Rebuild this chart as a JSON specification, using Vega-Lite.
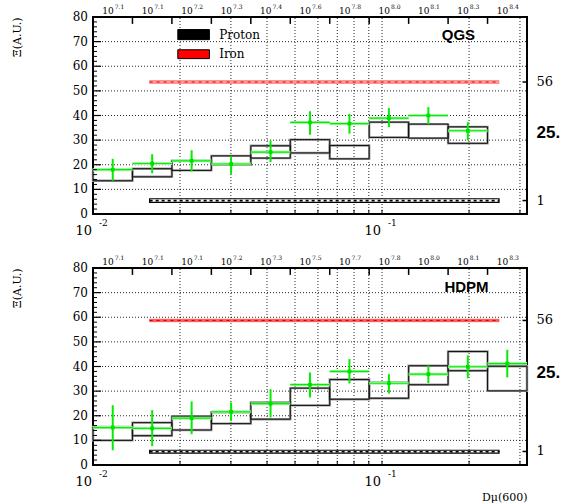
{
  "$schema": "https://vega.github.io/schema/vega-lite/v6.json",
  "padding": {"left": 10, "top": 3, "right": 2, "bottom": 3},
  "background": "white",
  "config": {
    "view": {"stroke": "black", "strokeWidth": 2},
    "axis": {"labels": false, "ticks": false, "domain": false, "grid": false,
      "titleFont": "DejaVu Serif", "titleFontWeight": "normal", "titleColor": "black", "titleFontSize": 11},
    "text": {"font": "DejaVu Serif", "color": "black"}
  },
  "datasets": {
    "qgs": [
      {"lo": -2.0, "hi": -1.8635, "mid": -1.93175, "bLo": 13.5, "bHi": 18.0, "val": 18.0, "eLo": 13.5, "eHi": 22.4},
      {"lo": -1.8635, "hi": -1.727, "mid": -1.79525, "bLo": 15.1, "bHi": 18.4, "val": 20.5, "eLo": 16.5, "eHi": 24.3},
      {"lo": -1.727, "hi": -1.5905, "mid": -1.65875, "bLo": 17.7, "bHi": 21.6, "val": 21.6, "eLo": 17.3, "eHi": 25.9},
      {"lo": -1.5905, "hi": -1.454, "mid": -1.52225, "bLo": 20.0, "bHi": 23.6, "val": 20.3, "eLo": 16.2, "eHi": 23.4},
      {"lo": -1.454, "hi": -1.3175, "mid": -1.38575, "bLo": 22.7, "bHi": 27.7, "val": 25.1, "eLo": 21.1, "eHi": 29.8},
      {"lo": -1.3175, "hi": -1.181, "mid": -1.24925, "bLo": 24.8, "bHi": 30.2, "val": 37.2, "eLo": 32.2, "eHi": 41.7},
      {"lo": -1.181, "hi": -1.0445, "mid": -1.11275, "bLo": 22.4, "bHi": 27.8, "val": 36.7, "eLo": 32.6, "eHi": 40.7},
      {"lo": -1.0445, "hi": -0.908, "mid": -0.97625, "bLo": 31.1, "bHi": 37.3, "val": 38.9, "eLo": 35.3, "eHi": 43.0},
      {"lo": -0.908, "hi": -0.7715, "mid": -0.83975, "bLo": 30.8, "bHi": 36.5, "val": 40.0, "eLo": 36.5, "eHi": 43.4},
      {"lo": -0.7715, "hi": -0.635, "mid": -0.70325, "bLo": 28.7, "bHi": 35.4, "val": 33.8, "eLo": 29.9, "eHi": 37.3}
    ],
    "hdpm": [
      {"lo": -2.0, "hi": -1.8635, "mid": -1.93175, "bLo": 10.0, "bHi": 15.5, "val": 15.2, "eLo": 6.0, "eHi": 24.3},
      {"lo": -1.8635, "hi": -1.727, "mid": -1.79525, "bLo": 11.9, "bHi": 17.2, "val": 14.9, "eLo": 7.7, "eHi": 22.3},
      {"lo": -1.727, "hi": -1.5905, "mid": -1.65875, "bLo": 14.2, "bHi": 19.8, "val": 19.0, "eLo": 12.5, "eHi": 25.8},
      {"lo": -1.5905, "hi": -1.454, "mid": -1.52225, "bLo": 16.8, "bHi": 21.4, "val": 21.6, "eLo": 17.9, "eHi": 25.4},
      {"lo": -1.454, "hi": -1.3175, "mid": -1.38575, "bLo": 18.6, "bHi": 25.4, "val": 24.9, "eLo": 19.3, "eHi": 30.8},
      {"lo": -1.3175, "hi": -1.181, "mid": -1.24925, "bLo": 24.2, "bHi": 31.2, "val": 32.6, "eLo": 27.4, "eHi": 37.6},
      {"lo": -1.181, "hi": -1.0445, "mid": -1.11275, "bLo": 26.7, "bHi": 34.7, "val": 38.0, "eLo": 33.1, "eHi": 43.0},
      {"lo": -1.0445, "hi": -0.908, "mid": -0.97625, "bLo": 27.1, "bHi": 33.5, "val": 33.2, "eLo": 29.0, "eHi": 36.9},
      {"lo": -0.908, "hi": -0.7715, "mid": -0.83975, "bLo": 32.6, "bHi": 40.3, "val": 36.9, "eLo": 33.3, "eHi": 40.4},
      {"lo": -0.7715, "hi": -0.635, "mid": -0.70325, "bLo": 38.3, "bHi": 46.1, "val": 39.9, "eLo": 35.2, "eHi": 44.5},
      {"lo": -0.635, "hi": -0.4985, "mid": -0.56675, "bLo": 30.1, "bHi": 40.1, "val": 41.2, "eLo": 35.6, "eHi": 46.8}
    ],
    "gridX": [
      {"g": -1.69897}, {"g": -1.52288}, {"g": -1.39794}, {"g": -1.30103}, {"g": -1.22185},
      {"g": -1.1549}, {"g": -1.09691}, {"g": -1.04576}, {"g": -1}, {"g": -0.69897}, {"g": -0.52288}
    ],
    "gridY": [{"v": 10}, {"v": 20}, {"v": 30}, {"v": 40}, {"v": 50}, {"v": 60}, {"v": 70}],
    "yTicks": [{"v": 0}, {"v": 10}, {"v": 20}, {"v": 30}, {"v": 40}, {"v": 50}, {"v": 60}, {"v": 70}, {"v": 80}],
    "yMinor": [
      {"v": 2}, {"v": 4}, {"v": 6}, {"v": 8}, {"v": 12}, {"v": 14}, {"v": 16}, {"v": 18},
      {"v": 22}, {"v": 24}, {"v": 26}, {"v": 28}, {"v": 32}, {"v": 34}, {"v": 36}, {"v": 38},
      {"v": 42}, {"v": 44}, {"v": 46}, {"v": 48}, {"v": 52}, {"v": 54}, {"v": 56}, {"v": 58},
      {"v": 62}, {"v": 64}, {"v": 66}, {"v": 68}, {"v": 72}, {"v": 74}, {"v": 76}, {"v": 78}
    ],
    "xTicks": [{"g": -2, "e": "-2"}, {"g": -1, "e": "-1"}],
    "edges": [
      {"d": -1.8635}, {"d": -1.727}, {"d": -1.5905}, {"d": -1.454}, {"d": -1.3175},
      {"d": -1.181}, {"d": -1.0445}, {"d": -0.908}, {"d": -0.7715}, {"d": -0.635}
    ],
    "expQ": [
      {"d": -1.93175, "e": "7.1"}, {"d": -1.79525, "e": "7.1"}, {"d": -1.65875, "e": "7.2"},
      {"d": -1.52225, "e": "7.3"}, {"d": -1.38575, "e": "7.4"}, {"d": -1.24925, "e": "7.6"},
      {"d": -1.11275, "e": "7.8"}, {"d": -0.97625, "e": "8.0"}, {"d": -0.83975, "e": "8.1"},
      {"d": -0.70325, "e": "8.3"}, {"d": -0.56675, "e": "8.4"}
    ],
    "expH": [
      {"d": -1.93175, "e": "7.1"}, {"d": -1.79525, "e": "7.1"}, {"d": -1.65875, "e": "7.1"},
      {"d": -1.52225, "e": "7.2"}, {"d": -1.38575, "e": "7.3"}, {"d": -1.24925, "e": "7.5"},
      {"d": -1.11275, "e": "7.7"}, {"d": -0.97625, "e": "7.8"}, {"d": -0.83975, "e": "8.0"},
      {"d": -0.70325, "e": "8.1"}, {"d": -0.56675, "e": "8.3"}
    ],
    "bandsQ": [
      {"kind": "iron", "lo": -1.8041, "hi": -0.5952, "yLo": 53.0, "yHi": 54.2, "y": 53.6},
      {"kind": "proton", "lo": -1.8041, "hi": -0.5952, "yLo": 4.7, "yHi": 6.2, "y": 5.45}
    ],
    "bandsH": [
      {"kind": "iron", "lo": -1.8041, "hi": -0.5952, "yLo": 58.2, "yHi": 59.2, "y": 58.7},
      {"kind": "proton", "lo": -1.8041, "hi": -0.5952, "yLo": 4.8, "yHi": 6.0, "y": 5.4}
    ],
    "sideQ": [{"t": "56", "v": 53.6}, {"t": "1", "v": 5.45}],
    "sideH": [{"t": "56", "v": 58.7}, {"t": "1", "v": 5.5}],
    "legend": [
      {"t": "Proton", "kind": "proton", "lo": -1.7066, "hi": -1.5972, "yLo": 70.8, "yHi": 74.9, "y": 72.8},
      {"t": "Iron", "kind": "iron", "lo": -1.7066, "hi": -1.5972, "yLo": 63.1, "yHi": 66.7, "y": 64.9}
    ]
  },
  "spacing": 15,
  "vconcat": [
    {
      "width": 434,
      "height": 197,
      "layer": [
        {
          "data": {"name": "gridX"},
          "mark": {"type": "rule", "stroke": "black", "strokeWidth": 1, "strokeDash": [1, 2], "opacity": 0.85},
          "encoding": {
            "x": {"field": "g", "type": "quantitative"},
            "y": {"datum": 0, "type": "quantitative"},
            "y2": {"datum": 80}
          }
        },
        {
          "data": {"name": "gridY"},
          "mark": {"type": "rule", "stroke": "black", "strokeWidth": 1, "strokeDash": [1, 2], "opacity": 0.85},
          "encoding": {
            "x": {"datum": -2, "type": "quantitative"},
            "x2": {"datum": -0.4985},
            "y": {"field": "v", "type": "quantitative"}
          }
        },
        {
          "data": {"name": "qgs"},
          "mark": {"type": "rect", "fillOpacity": 0, "stroke": "#9a9a9a", "strokeWidth": 2.4},
          "encoding": {
            "x": {"field": "lo", "type": "quantitative", "scale": {"domain": [-2, -0.4985], "nice": false, "zero": false},
              "axis": {"title": null}},
            "x2": {"field": "hi"},
            "y": {"field": "bLo", "type": "quantitative", "scale": {"domain": [0, 80], "nice": false, "zero": false},
              "axis": {"title": "Ξ(A.U.)", "titleAnchor": "end", "titlePadding": 71}},
            "y2": {"field": "bHi"}
          }
        },
        {
          "data": {"name": "qgs"},
          "mark": {"type": "rect", "fillOpacity": 0, "stroke": "#111", "strokeWidth": 1},
          "encoding": {
            "x": {"field": "lo", "type": "quantitative"},
            "x2": {"field": "hi"},
            "y": {"field": "bLo", "type": "quantitative"},
            "y2": {"field": "bHi"}
          }
        },
        {
          "data": {"name": "bandsQ"},
          "transform": [{"filter": "datum.kind == 'iron'"}],
          "mark": {"type": "rect", "fill": "#ff9a9a", "stroke": "#ff6a6a", "strokeWidth": 0.6},
          "encoding": {
            "x": {"field": "lo", "type": "quantitative"},
            "x2": {"field": "hi"},
            "y": {"field": "yLo", "type": "quantitative"},
            "y2": {"field": "yHi"}
          }
        },
        {
          "data": {"name": "bandsQ"},
          "transform": [{"filter": "datum.kind == 'iron'"}],
          "mark": {"type": "rule", "stroke": "#e00000", "strokeWidth": 1.2, "strokeDash": [3, 4]},
          "encoding": {
            "x": {"field": "lo", "type": "quantitative"},
            "x2": {"field": "hi"},
            "y": {"field": "y", "type": "quantitative"}
          }
        },
        {
          "data": {"name": "bandsQ"},
          "transform": [{"filter": "datum.kind == 'proton'"}],
          "mark": {"type": "rect", "fill": "white", "stroke": "black", "strokeWidth": 1.2},
          "encoding": {
            "x": {"field": "lo", "type": "quantitative"},
            "x2": {"field": "hi"},
            "y": {"field": "yLo", "type": "quantitative"},
            "y2": {"field": "yHi"}
          }
        },
        {
          "data": {"name": "bandsQ"},
          "transform": [{"filter": "datum.kind == 'proton'"}],
          "mark": {"type": "rule", "stroke": "black", "strokeWidth": 1.6, "strokeDash": [3, 3]},
          "encoding": {
            "x": {"field": "lo", "type": "quantitative"},
            "x2": {"field": "hi"},
            "y": {"field": "y", "type": "quantitative"}
          }
        },
        {
          "data": {"name": "qgs"},
          "mark": {"type": "rule", "stroke": "#a8f5a8", "strokeWidth": 3},
          "encoding": {
            "x": {"field": "lo", "type": "quantitative"},
            "x2": {"field": "hi"},
            "y": {"field": "val", "type": "quantitative"}
          }
        },
        {
          "data": {"name": "qgs"},
          "mark": {"type": "rule", "stroke": "#00ee00", "strokeWidth": 1.2},
          "encoding": {
            "x": {"field": "lo", "type": "quantitative"},
            "x2": {"field": "hi"},
            "y": {"field": "val", "type": "quantitative"}
          }
        },
        {
          "data": {"name": "qgs"},
          "mark": {"type": "rule", "stroke": "#00ee00", "strokeWidth": 2},
          "encoding": {
            "x": {"field": "mid", "type": "quantitative"},
            "y": {"field": "eLo", "type": "quantitative"},
            "y2": {"field": "eHi"}
          }
        },
        {
          "data": {"name": "qgs"},
          "mark": {"type": "square", "color": "#00dd00", "size": 14, "opacity": 1},
          "encoding": {
            "x": {"field": "mid", "type": "quantitative"},
            "y": {"field": "val", "type": "quantitative"}
          }
        },
        {
          "data": {"name": "edges"},
          "mark": {"type": "rule", "stroke": "black", "strokeWidth": 1.5},
          "encoding": {
            "x": {"field": "d", "type": "quantitative"},
            "y": {"datum": 80, "type": "quantitative"},
            "y2": {"datum": 77.2}
          }
        },
        {
          "data": {"name": "yTicks"},
          "mark": {"type": "rule", "stroke": "black", "strokeWidth": 1.2},
          "encoding": {
            "x": {"datum": -2, "type": "quantitative"},
            "x2": {"datum": -1.9723},
            "y": {"field": "v", "type": "quantitative"}
          }
        },
        {
          "data": {"name": "yMinor"},
          "mark": {"type": "rule", "stroke": "black", "strokeWidth": 1},
          "encoding": {
            "x": {"datum": -2, "type": "quantitative"},
            "x2": {"datum": -1.9861},
            "y": {"field": "v", "type": "quantitative"}
          }
        },
        {
          "data": {"name": "gridX"},
          "mark": {"type": "rule", "stroke": "black", "strokeWidth": 1},
          "encoding": {
            "x": {"field": "g", "type": "quantitative"},
            "y": {"datum": 0, "type": "quantitative"},
            "y2": {"datum": 1.7}
          }
        },
        {
          "data": {"name": "expQ"},
          "mark": {"type": "text", "text": "10", "align": "right", "baseline": "bottom", "dx": 1, "dy": -1.5, "fontSize": 9},
          "encoding": {
            "x": {"field": "d", "type": "quantitative"},
            "y": {"datum": 80, "type": "quantitative"}
          }
        },
        {
          "data": {"name": "expQ"},
          "mark": {"type": "text", "align": "left", "baseline": "bottom", "dx": 2, "dy": -7, "fontSize": 6},
          "encoding": {
            "x": {"field": "d", "type": "quantitative"},
            "y": {"datum": 80, "type": "quantitative"},
            "text": {"field": "e"}
          }
        },
        {
          "data": {"name": "yTicks"},
          "mark": {"type": "text", "align": "right", "baseline": "middle", "dx": -5, "fontSize": 12},
          "encoding": {
            "x": {"datum": -2, "type": "quantitative"},
            "y": {"field": "v", "type": "quantitative"},
            "text": {"field": "v", "type": "quantitative"}
          }
        },
        {
          "data": {"name": "xTicks"},
          "mark": {"type": "text", "text": "10", "align": "right", "baseline": "top", "dx": -1, "dy": 11, "fontSize": 13},
          "encoding": {
            "x": {"field": "g", "type": "quantitative"},
            "y": {"datum": 0, "type": "quantitative"}
          }
        },
        {
          "data": {"name": "xTicks"},
          "mark": {"type": "text", "align": "left", "baseline": "top", "dx": 6, "dy": 5, "fontSize": 9},
          "encoding": {
            "x": {"field": "g", "type": "quantitative"},
            "y": {"datum": 0, "type": "quantitative"},
            "text": {"field": "e"}
          }
        },
        {
          "data": {"name": "sideQ"},
          "mark": {"type": "rule", "stroke": "black", "strokeWidth": 1.5},
          "encoding": {
            "x": {"datum": -0.514, "type": "quantitative"},
            "x2": {"datum": -0.4985},
            "y": {"field": "v", "type": "quantitative"}
          }
        },
        {
          "data": {"name": "sideQ"},
          "mark": {"type": "text", "align": "left", "baseline": "middle", "fontSize": 13},
          "encoding": {
            "x": {"datum": -0.4656, "type": "quantitative"},
            "y": {"field": "v", "type": "quantitative"},
            "text": {"field": "t"}
          }
        },
        {
          "data": {"values": [{"t": "25.", "v": 32.8}]},
          "mark": {"type": "text", "align": "left", "baseline": "middle", "font": "Liberation Sans", "fontWeight": "bold", "fontSize": 17},
          "encoding": {
            "x": {"datum": -0.4656, "type": "quantitative"},
            "y": {"field": "v", "type": "quantitative"},
            "text": {"field": "t"}
          }
        },
        {
          "data": {"values": [{"t": "QGS", "d": -0.7359, "v": 72.5}]},
          "mark": {"type": "text", "align": "center", "baseline": "middle", "font": "Liberation Sans", "fontWeight": "bold", "fontSize": 15},
          "encoding": {
            "x": {"field": "d", "type": "quantitative"},
            "y": {"field": "v", "type": "quantitative"},
            "text": {"field": "t"}
          }
        },
        {
          "data": {"name": "legend"},
          "mark": {"type": "rect", "stroke": "black", "strokeWidth": 1},
          "encoding": {
            "x": {"field": "lo", "type": "quantitative"},
            "x2": {"field": "hi"},
            "y": {"field": "yLo", "type": "quantitative"},
            "y2": {"field": "yHi"},
            "fill": {"field": "kind", "type": "nominal", "scale": {"domain": ["proton", "iron"], "range": ["black", "#ff0000"]}, "legend": null}
          }
        },
        {
          "data": {"name": "legend"},
          "mark": {"type": "text", "align": "left", "baseline": "middle", "fontSize": 12},
          "encoding": {
            "x": {"datum": -1.5636, "type": "quantitative"},
            "y": {"field": "y", "type": "quantitative"},
            "text": {"field": "t"}
          }
        }
      ]
    },
    {
      "width": 434,
      "height": 197,
      "layer": [
        {
          "data": {"name": "gridX"},
          "mark": {"type": "rule", "stroke": "black", "strokeWidth": 1, "strokeDash": [1, 2], "opacity": 0.85},
          "encoding": {
            "x": {"field": "g", "type": "quantitative"},
            "y": {"datum": 0, "type": "quantitative"},
            "y2": {"datum": 80}
          }
        },
        {
          "data": {"name": "gridY"},
          "mark": {"type": "rule", "stroke": "black", "strokeWidth": 1, "strokeDash": [1, 2], "opacity": 0.85},
          "encoding": {
            "x": {"datum": -2, "type": "quantitative"},
            "x2": {"datum": -0.4985},
            "y": {"field": "v", "type": "quantitative"}
          }
        },
        {
          "data": {"name": "hdpm"},
          "mark": {"type": "rect", "fillOpacity": 0, "stroke": "#9a9a9a", "strokeWidth": 2.4},
          "encoding": {
            "x": {"field": "lo", "type": "quantitative", "scale": {"domain": [-2, -0.4985], "nice": false, "zero": false},
              "axis": {"title": "Dμ(600)", "titleAnchor": "end", "titlePadding": 26}},
            "x2": {"field": "hi"},
            "y": {"field": "bLo", "type": "quantitative", "scale": {"domain": [0, 80], "nice": false, "zero": false},
              "axis": {"title": "Ξ(A.U.)", "titleAnchor": "end", "titlePadding": 71}},
            "y2": {"field": "bHi"}
          }
        },
        {
          "data": {"name": "hdpm"},
          "mark": {"type": "rect", "fillOpacity": 0, "stroke": "#111", "strokeWidth": 1},
          "encoding": {
            "x": {"field": "lo", "type": "quantitative"},
            "x2": {"field": "hi"},
            "y": {"field": "bLo", "type": "quantitative"},
            "y2": {"field": "bHi"}
          }
        },
        {
          "data": {"name": "bandsH"},
          "transform": [{"filter": "datum.kind == 'iron'"}],
          "mark": {"type": "rect", "fill": "#ff5a5a", "stroke": "#ff3030", "strokeWidth": 0.6},
          "encoding": {
            "x": {"field": "lo", "type": "quantitative"},
            "x2": {"field": "hi"},
            "y": {"field": "yLo", "type": "quantitative"},
            "y2": {"field": "yHi"}
          }
        },
        {
          "data": {"name": "bandsH"},
          "transform": [{"filter": "datum.kind == 'iron'"}],
          "mark": {"type": "rule", "stroke": "#d00000", "strokeWidth": 1, "strokeDash": [3, 4]},
          "encoding": {
            "x": {"field": "lo", "type": "quantitative"},
            "x2": {"field": "hi"},
            "y": {"field": "y", "type": "quantitative"}
          }
        },
        {
          "data": {"name": "bandsH"},
          "transform": [{"filter": "datum.kind == 'proton'"}],
          "mark": {"type": "rect", "fill": "white", "stroke": "black", "strokeWidth": 1.2},
          "encoding": {
            "x": {"field": "lo", "type": "quantitative"},
            "x2": {"field": "hi"},
            "y": {"field": "yLo", "type": "quantitative"},
            "y2": {"field": "yHi"}
          }
        },
        {
          "data": {"name": "bandsH"},
          "transform": [{"filter": "datum.kind == 'proton'"}],
          "mark": {"type": "rule", "stroke": "black", "strokeWidth": 1.6, "strokeDash": [3, 3]},
          "encoding": {
            "x": {"field": "lo", "type": "quantitative"},
            "x2": {"field": "hi"},
            "y": {"field": "y", "type": "quantitative"}
          }
        },
        {
          "data": {"name": "hdpm"},
          "mark": {"type": "rule", "stroke": "#a8f5a8", "strokeWidth": 3},
          "encoding": {
            "x": {"field": "lo", "type": "quantitative"},
            "x2": {"field": "hi"},
            "y": {"field": "val", "type": "quantitative"}
          }
        },
        {
          "data": {"name": "hdpm"},
          "mark": {"type": "rule", "stroke": "#00ee00", "strokeWidth": 1.2},
          "encoding": {
            "x": {"field": "lo", "type": "quantitative"},
            "x2": {"field": "hi"},
            "y": {"field": "val", "type": "quantitative"}
          }
        },
        {
          "data": {"name": "hdpm"},
          "mark": {"type": "rule", "stroke": "#00ee00", "strokeWidth": 2},
          "encoding": {
            "x": {"field": "mid", "type": "quantitative"},
            "y": {"field": "eLo", "type": "quantitative"},
            "y2": {"field": "eHi"}
          }
        },
        {
          "data": {"name": "hdpm"},
          "mark": {"type": "square", "color": "#00dd00", "size": 14, "opacity": 1},
          "encoding": {
            "x": {"field": "mid", "type": "quantitative"},
            "y": {"field": "val", "type": "quantitative"}
          }
        },
        {
          "data": {"name": "edges"},
          "mark": {"type": "rule", "stroke": "black", "strokeWidth": 1.5},
          "encoding": {
            "x": {"field": "d", "type": "quantitative"},
            "y": {"datum": 80, "type": "quantitative"},
            "y2": {"datum": 77.2}
          }
        },
        {
          "data": {"name": "yTicks"},
          "mark": {"type": "rule", "stroke": "black", "strokeWidth": 1.2},
          "encoding": {
            "x": {"datum": -2, "type": "quantitative"},
            "x2": {"datum": -1.9723},
            "y": {"field": "v", "type": "quantitative"}
          }
        },
        {
          "data": {"name": "yMinor"},
          "mark": {"type": "rule", "stroke": "black", "strokeWidth": 1},
          "encoding": {
            "x": {"datum": -2, "type": "quantitative"},
            "x2": {"datum": -1.9861},
            "y": {"field": "v", "type": "quantitative"}
          }
        },
        {
          "data": {"name": "gridX"},
          "mark": {"type": "rule", "stroke": "black", "strokeWidth": 1},
          "encoding": {
            "x": {"field": "g", "type": "quantitative"},
            "y": {"datum": 0, "type": "quantitative"},
            "y2": {"datum": 1.7}
          }
        },
        {
          "data": {"name": "expH"},
          "mark": {"type": "text", "text": "10", "align": "right", "baseline": "bottom", "dx": 1, "dy": -1.5, "fontSize": 9},
          "encoding": {
            "x": {"field": "d", "type": "quantitative"},
            "y": {"datum": 80, "type": "quantitative"}
          }
        },
        {
          "data": {"name": "expH"},
          "mark": {"type": "text", "align": "left", "baseline": "bottom", "dx": 2, "dy": -7, "fontSize": 6},
          "encoding": {
            "x": {"field": "d", "type": "quantitative"},
            "y": {"datum": 80, "type": "quantitative"},
            "text": {"field": "e"}
          }
        },
        {
          "data": {"name": "yTicks"},
          "mark": {"type": "text", "align": "right", "baseline": "middle", "dx": -5, "fontSize": 12},
          "encoding": {
            "x": {"datum": -2, "type": "quantitative"},
            "y": {"field": "v", "type": "quantitative"},
            "text": {"field": "v", "type": "quantitative"}
          }
        },
        {
          "data": {"name": "xTicks"},
          "mark": {"type": "text", "text": "10", "align": "right", "baseline": "top", "dx": -1, "dy": 11, "fontSize": 13},
          "encoding": {
            "x": {"field": "g", "type": "quantitative"},
            "y": {"datum": 0, "type": "quantitative"}
          }
        },
        {
          "data": {"name": "xTicks"},
          "mark": {"type": "text", "align": "left", "baseline": "top", "dx": 6, "dy": 5, "fontSize": 9},
          "encoding": {
            "x": {"field": "g", "type": "quantitative"},
            "y": {"datum": 0, "type": "quantitative"},
            "text": {"field": "e"}
          }
        },
        {
          "data": {"name": "sideH"},
          "mark": {"type": "rule", "stroke": "black", "strokeWidth": 1.5},
          "encoding": {
            "x": {"datum": -0.514, "type": "quantitative"},
            "x2": {"datum": -0.4985},
            "y": {"field": "v", "type": "quantitative"}
          }
        },
        {
          "data": {"name": "sideH"},
          "mark": {"type": "text", "align": "left", "baseline": "middle", "fontSize": 13},
          "encoding": {
            "x": {"datum": -0.4656, "type": "quantitative"},
            "y": {"field": "v", "type": "quantitative"},
            "text": {"field": "t"}
          }
        },
        {
          "data": {"values": [{"t": "25.", "v": 37.4}]},
          "mark": {"type": "text", "align": "left", "baseline": "middle", "font": "Liberation Sans", "fontWeight": "bold", "fontSize": 17},
          "encoding": {
            "x": {"datum": -0.4656, "type": "quantitative"},
            "y": {"field": "v", "type": "quantitative"},
            "text": {"field": "t"}
          }
        },
        {
          "data": {"values": [{"t": "HDPM", "d": -0.7077, "v": 72.1}]},
          "mark": {"type": "text", "align": "center", "baseline": "middle", "font": "Liberation Sans", "fontWeight": "bold", "fontSize": 15},
          "encoding": {
            "x": {"field": "d", "type": "quantitative"},
            "y": {"field": "v", "type": "quantitative"},
            "text": {"field": "t"}
          }
        }
      ]
    }
  ]
}
